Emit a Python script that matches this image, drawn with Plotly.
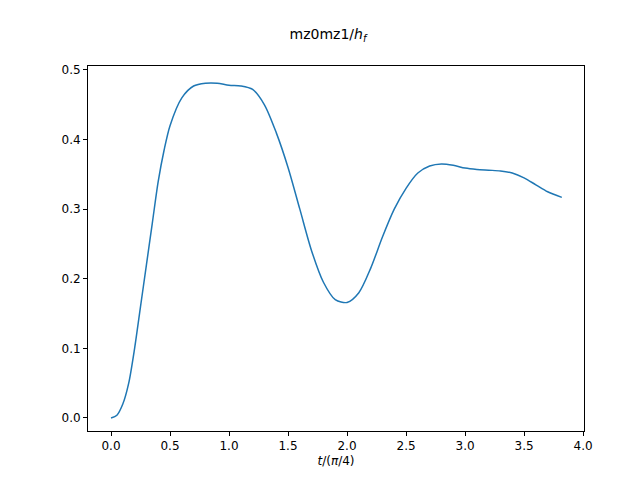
import plotly.graph_objects as go

t = [0.0, 0.05, 0.1, 0.15, 0.2, 0.25, 0.3, 0.35, 0.4, 0.45, 0.5, 0.6, 0.7, 0.8, 0.9,
     1.0, 1.1, 1.2, 1.3, 1.4, 1.5, 1.6, 1.7, 1.8, 1.9, 2.0, 2.1, 2.2, 2.3, 2.4, 2.5,
     2.6, 2.7, 2.8, 2.9, 3.0, 3.1, 3.2, 3.3, 3.4, 3.5, 3.6, 3.7, 3.82]
val = [0.0, 0.004, 0.02, 0.05, 0.1, 0.16, 0.22, 0.28, 0.34, 0.385, 0.42, 0.46, 0.477, 0.481, 0.481,
       0.478, 0.477, 0.472, 0.45, 0.41, 0.36, 0.3, 0.24, 0.195, 0.17, 0.166, 0.18, 0.215, 0.26, 0.3, 0.33,
       0.352, 0.362, 0.365, 0.363, 0.359, 0.357, 0.356, 0.355, 0.352, 0.345, 0.335, 0.325, 0.317]

fig = go.Figure()
fig.add_trace(go.Scatter(x=t, y=val, mode='lines', line=dict(color='#1f77b4', width=1.5, shape='spline', smoothing=0.8), showlegend=False))

axis = dict(showgrid=False, zeroline=False, showline=True, mirror=True, linecolor='black', linewidth=1,
            ticks='outside', ticklen=4, tickcolor='black', tickfont=dict(size=12, color='black'), automargin=False)
fig.update_xaxes(range=[-0.195, 4.008], tickvals=[0, 0.5, 1, 1.5, 2, 2.5, 3, 3.5, 4], tickformat='.1f',
                 title=dict(text='<i>t</i>/(<i>π</i>/4)', font=dict(size=12, color='black'), standoff=4), **axis)
fig.update_yaxes(range=[-0.0187, 0.5057], tickvals=[0, 0.1, 0.2, 0.3, 0.4, 0.5], tickformat='.1f', **axis)
fig.update_layout(width=640, height=480, margin=dict(l=80, r=64, t=58, b=57, pad=0),
                  paper_bgcolor='white', plot_bgcolor='white', font=dict(family='DejaVu Sans'),
                  title=dict(text='mz0mz1/<i>h</i><sub><i>f</i></sub>', x=0.5, xanchor='center', y=0.955,
                             font=dict(size=14, color='black'), automargin=False))
fig.write_html("out.html")
